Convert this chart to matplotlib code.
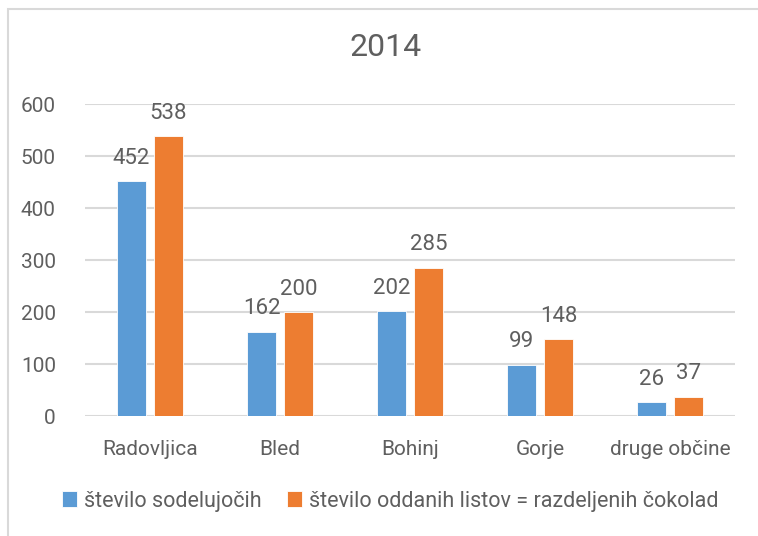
import matplotlib
matplotlib.use("Agg")
import matplotlib.pyplot as plt
from matplotlib.patches import Rectangle
import numpy as np

categories = ["Radovljica", "Bled", "Bohinj", "Gorje", "druge občine"]
sodelujocih = [452, 162, 202, 99, 26]
listov = [538, 200, 285, 148, 37]
series_names = ["število sodelujočih", "število oddanih listov = razdeljenih čokolad"]
yticks = [0, 100, 200, 300, 400, 500, 600]
title = "2014"

plt.rcParams['font.family'] = ["Roboto", 'DejaVu Sans']

W, H = 758, 536
fig = plt.figure(figsize=(W/100, H/100), dpi=100)
TXT = "#5F5F5F"
BLUE = "#5B9BD5"
ORANGE = "#ED7D31"
GRID = "#D9D9D9"

ax = fig.add_axes([85/W, (H-416)/H, 650/W, 312/H])
x = np.arange(len(categories))
bw = 0.223
gap = 0.06
off = (bw + gap) / 2
b1 = ax.bar(x - off, sodelujocih, bw, color=BLUE, edgecolor="white", linewidth=0.6, label=series_names[0], zorder=3)
b2 = ax.bar(x + off, listov, bw, color=ORANGE, edgecolor="white", linewidth=0.6, label=series_names[1], zorder=3)
for bars, vals in ((b1, sodelujocih), (b2, listov)):
    for r, v in zip(bars, vals):
        ax.annotate(str(v), (r.get_x() + r.get_width()/2, v), xytext=(0, 12.5),
                    textcoords="offset points", ha="center", va="baseline",
                    fontsize=16, color=TXT)

ax.set_xlim(-0.5, len(categories) - 0.5)
ax.set_ylim(0, 600)
ax.set_yticks(yticks)
ax.set_yticklabels([str(t) for t in yticks], fontsize=15, color=TXT)
ax.set_xticks(x)
ax.set_xticklabels(categories, fontsize=15, color=TXT)
ax.tick_params(axis="both", length=0)
ax.tick_params(axis="y", pad=21)
ax.tick_params(axis="x", pad=17)
ax.grid(axis="y", color=GRID, linewidth=1.5, zorder=0)
for s in ax.spines.values():
    s.set_visible(False)
ax.set_facecolor("none")

fig.text(386/W, 1 - 48/H, title, ha="center", va="center", fontsize=23, color=TXT)

leg = fig.legend(handles=[b1, b2], labels=series_names, loc="center",
                 bbox_to_anchor=(390/W, 1 - 501/H), ncol=2, frameon=False,
                 prop={"size": 15.5}, handlelength=0.7, handleheight=0.7,
                 handletextpad=0.3, columnspacing=1.2)
for t in leg.get_texts():
    t.set_color(TXT)

fig.patches.append(Rectangle((8/W, -0.2), 1.5, 1 - 9/H + 0.2, transform=fig.transFigure,
                             fill=False, edgecolor=GRID, linewidth=1.5))

fig.savefig("out.png", dpi=100)
